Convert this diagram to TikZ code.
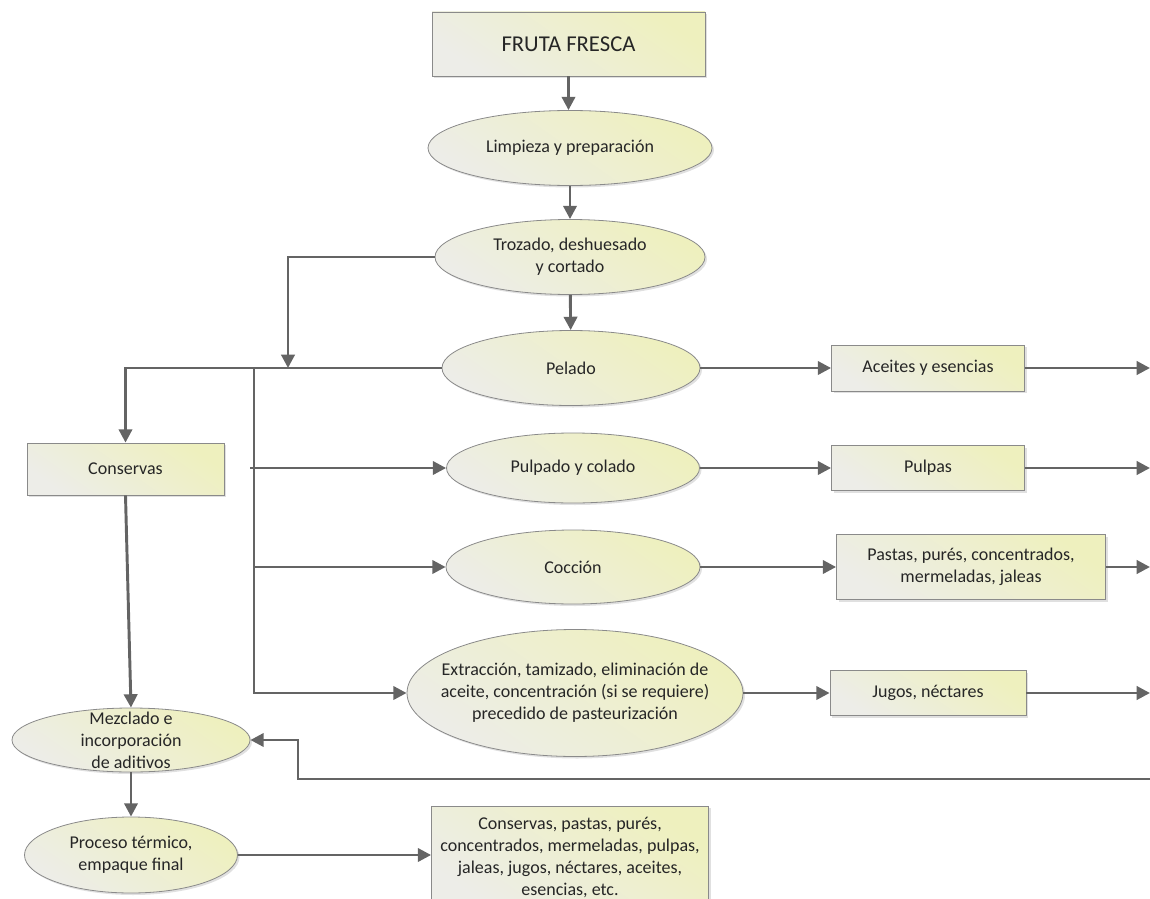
\documentclass[tikz,border=0pt]{standalone}
\usepackage{fontspec}
\setmainfont{Carlito}
\usetikzlibrary{shapes.geometric,arrows.meta,shadows}

\definecolor{linegray}{HTML}{646464}
\definecolor{edgegray}{HTML}{8A8A8A}
\definecolor{fillyel}{HTML}{EEF0BE}
\definecolor{fillgry}{HTML}{EDEDE8}
\definecolor{txtcol}{HTML}{262626}

\tikzset{
  nodefill/.style={top color=fillyel, bottom color=fillgry, shading angle=-35,
    draw=edgegray, line width=0.6pt,
    drop shadow={shadow xshift=1.5pt, shadow yshift=-1.5pt, fill=black!12, opacity=1}},
  txt/.style={font=\fontsize{13.5}{16.5}\selectfont, text=txtcol, align=center},
  stagebox/.style={nodefill, rectangle, inner sep=0pt, txt},
  procell/.style={nodefill, ellipse, inner sep=0pt},
  ptext/.style={txt},
  conn/.style={draw=linegray, line width=2.2pt, -{Triangle[length=10pt,width=10pt]}}
}

\begin{document}
\begin{tikzpicture}[x=0.75pt, y=-0.75pt]
\useasboundingbox (0,0) rectangle (1150,899);

% boxes
\node[stagebox, minimum width=204.75pt, minimum height=48pt,
      font=\fontsize{17}{20}\selectfont] (fruta) at (568.5,44) {FRUTA FRESCA};
\node[stagebox, minimum width=144.75pt, minimum height=34.5pt] (acei) at (928,368) {Aceites y esencias};
\node[stagebox, minimum width=144.75pt, minimum height=33.75pt] (pulpas) at (928,468) {Pulpas};
\node[stagebox, minimum width=201.75pt, minimum height=48.75pt] (pastas) at (971,567) {Pastas, purés, concentrados,\\mermeladas, jaleas};
\node[stagebox, minimum width=147pt, minimum height=33.75pt] (jugos) at (928,693) {Jugos, néctares};
\node[stagebox, minimum width=147.75pt, minimum height=39pt] (cons) at (125.5,469) {Conservas};
\node[stagebox, minimum width=207.75pt, minimum height=76.5pt] (final) at (570,857)
  {Conservas, pastas, purés,\\concentrados, mermeladas, pulpas,\\jaleas, jugos, néctares, aceites,\\esencias, etc.};

% process ellipses
\node[procell, minimum width=213pt, minimum height=56.25pt,
      label={[ptext]center:Limpieza y preparación}] (limp) at (570,148) {};
\node[procell, minimum width=202.5pt, minimum height=56.25pt,
      label={[ptext]center:{Trozado, deshuesado\\y cortado}}] (troz) at (570,257) {};
\node[procell, minimum width=193.5pt, minimum height=56.25pt,
      label={[ptext]center:Pelado}] (pel) at (571,368) {};
\node[procell, minimum width=189.75pt, minimum height=52.5pt,
      label={[ptext]center:Pulpado y colado}] (pulp) at (573,468) {};
\node[procell, minimum width=190.5pt, minimum height=55.5pt,
      label={[ptext]center:Cocción}] (cocc) at (573,567) {};
\node[procell, minimum width=252pt, minimum height=95.25pt,
      label={[ptext]center:{Extracción, tamizado, eliminación de\\aceite, concentración (si se requiere)\\precedido de pasteurización}}] (extr) at (575,693) {};
\node[procell, minimum width=178.5pt, minimum height=48pt,
      label={[ptext]center:{Mezclado e\\incorporación\\de aditivos}}] (mezc) at (131,740) {};
\node[procell, minimum width=159.75pt, minimum height=57pt,
      label={[ptext]center:{Proceso térmico,\\empaque final}}] (proc) at (131,855) {};

% junction points and free ends
\coordinate (j1) at (288,368);
\coordinate (j2) at (254,368);
\coordinate (j4) at (250,468);
\coordinate (j5) at (254,567);
\coordinate (o1) at (1150,368);
\coordinate (o2) at (1150,468);
\coordinate (o3) at (1150,567);
\coordinate (o4) at (1150,693);
\coordinate (fb) at (1152,779);
\coordinate (fbc) at (298,779);

% main column
\draw[conn] (fruta.south) -- (fruta.south |- limp.north);
\draw[conn] (limp) -- (troz);
\draw[conn] (troz) -- (pel);
\draw[conn] (troz.west) -| (j1);
\draw[conn] (pel.west) -| (cons.north);

% distribution branches
\draw[conn] (j2) |- (extr.west);
\draw[conn] (j4) -- (pulp.west);
\draw[conn] (j5) -- (cocc.west);

% products
\draw[conn] (pel) -- (acei);
\draw[conn] (pulp) -- (pulpas);
\draw[conn] (cocc) -- (pastas);
\draw[conn] (extr) -- (jugos);
\draw[conn] (acei) -- (o1);
\draw[conn] (pulpas) -- (o2);
\draw[conn] (pastas) -- (o3);
\draw[conn] (jugos) -- (o4);

% final line
\draw[conn] (cons.south) -- (mezc.north);
\draw[conn] (fb) -- (fbc) |- (mezc.east);
\draw[conn] (mezc) -- (proc);
\draw[conn] (proc.east) -- (proc.east -| final.west);
\end{tikzpicture}
\end{document}
